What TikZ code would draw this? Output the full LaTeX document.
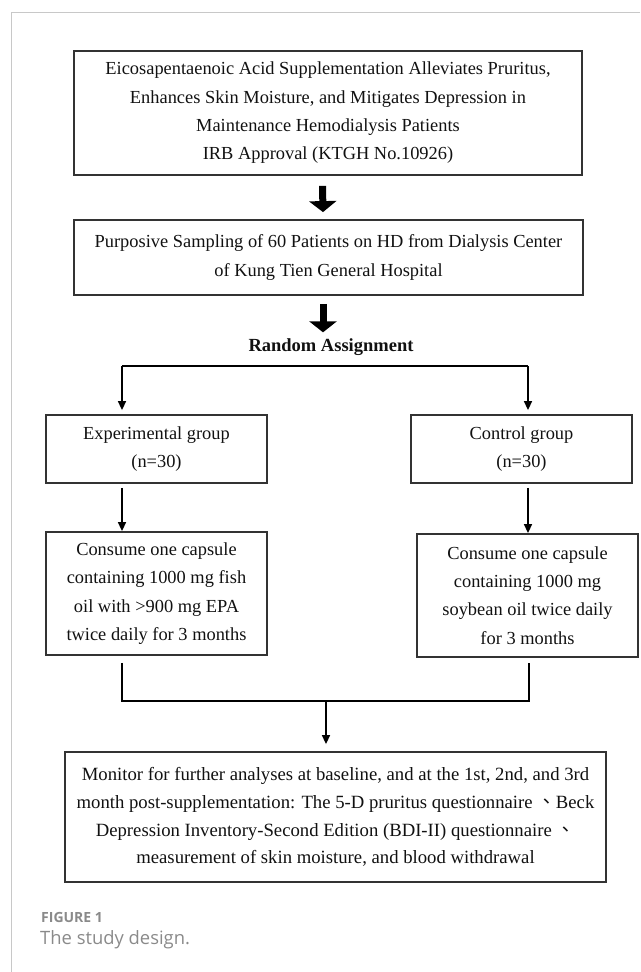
\documentclass[tikz,border=0pt]{standalone}
\usepackage{fontspec}
\setmainfont{Liberation Serif}
\newfontfamily\capfont{Open Sans}
\newfontfamily\cjk{Noto Sans CJK TC}
\usetikzlibrary{arrows.meta,calc}
\definecolor{boxline}{HTML}{333333}
\definecolor{txt}{HTML}{111111}
\definecolor{framegray}{HTML}{C8C8C8}
\definecolor{capgray}{HTML}{8A8A8A}
\tikzset{
  flowbox/.style={draw=boxline, line width=1.8pt, align=center, inner sep=0pt, text=txt,
    font=\fontsize{18.4}{28.3}\selectfont},
  bigarrow/.style={line width=7pt, -{Triangle[width=27pt,length=11pt]}, color=black},
  thinarrow/.style={line width=1.5pt, -{Triangle[width=8pt,length=9pt]}, color=black},
  thinline/.style={line width=1.5pt, color=black},
}
\begin{document}
\begin{tikzpicture}[x=1pt,y=-1pt]
\useasboundingbox (0,0) rectangle (640,972);
% page frame
\draw[framegray, line width=1pt] (640,12) -- (11.5,12) -- (11.5,972);

\node[flowbox, minimum width=508pt, minimum height=124pt] (title) at (328,113)
  {Eicosapentaenoic Acid Supplementation Alleviates Pruritus,\\
   Enhances Skin Moisture, and Mitigates Depression in\\
   Maintenance Hemodialysis Patients\\
   IRB Approval (KTGH No.10926)};

\node[flowbox, minimum width=509pt, minimum height=75pt] (samp) at (328.5,257.5)
  {Purposive Sampling of 60 Patients on HD from Dialysis Center\\
   of Kung Tien General Hospital};

\node[text=txt, font=\fontsize{18.5}{21}\selectfont\bfseries, inner sep=0pt] (rand) at (331,347) {Random Assignment};

\node[flowbox, minimum width=221pt, minimum height=68pt] (exp) at (156.5,449)
  {Experimental group\\ (n=30)};
\node[flowbox, minimum width=221pt, minimum height=68pt] (ctl) at (521.5,449)
  {Control group\\ (n=30)};

\node[flowbox, minimum width=221pt, minimum height=123pt] (exp2) at (156.5,593.5)
  {Consume one capsule\\ containing 1000 mg fish\\ oil with >900 mg EPA\\ twice daily for 3 months};
\node[flowbox, minimum width=221pt, minimum height=123pt] (ctl2) at (527.5,595.5)
  {Consume one capsule\\ containing 1000 mg\\ soybean oil twice daily\\ for 3 months};

\node[flowbox, minimum width=541pt, minimum height=130pt, font=\fontsize{18.7}{27.7}\selectfont] (mon) at (335.5,817)
  {Monitor for further analyses at baseline, and at the 1st, 2nd, and 3rd\\
   month post-supplementation: The 5-D pruritus questionnaire {\cjk 、}Beck\\
   Depression Inventory-Second Edition (BDI-II) questionnaire {\cjk 、}\\
   measurement of skin moisture, and blood withdrawal};

% thick arrows
\draw[bigarrow] ([xshift=-5.5pt,yshift=-10pt]title.south) -- ([xshift=-5.5pt,yshift=7pt]samp.north);
\draw[bigarrow] ([xshift=-5.5pt,yshift=-8pt]samp.south) -- ([xshift=-8pt,yshift=6pt]rand.north);

% branch
\coordinate (brL) at (122,366);
\coordinate (brR) at (528,366);
\draw[thinline] (brL) -- (brR);
\draw[thinarrow] (brL) -- ([yshift=4pt]brL |- exp.north);
\draw[thinarrow] (brR) -- ([yshift=4pt]brR |- ctl.north);

% group to treatment
\draw[thinarrow] ([yshift=-4pt]brL |- exp.south) -- (brL |- exp2.north);
\draw[thinarrow] ([yshift=-4pt]brR |- ctl.south) -- (brR |- ctl2.north);

% merge
\coordinate (mL) at (122,701);
\coordinate (mR) at (529,701);
\coordinate (mC) at (326,701);
\draw[thinline] ([yshift=-7pt]mL |- exp2.south) -- (mL) -- (mR) -- ([yshift=-5pt]mR |- ctl2.south);
\draw[thinarrow] (mC) -- ([yshift=7pt]mC |- mon.north);

% caption
\node[anchor=west, text=capgray, font=\capfont\fontsize{14}{16}\selectfont\bfseries, inner sep=0pt] (figlbl) at (41,917) {FIGURE 1};
\node[anchor=west, text=capgray, font=\capfont\fontsize{18.4}{22}\selectfont, inner sep=0pt] (figcap) at (40,940) {The study design.};
\end{tikzpicture}
\end{document}
